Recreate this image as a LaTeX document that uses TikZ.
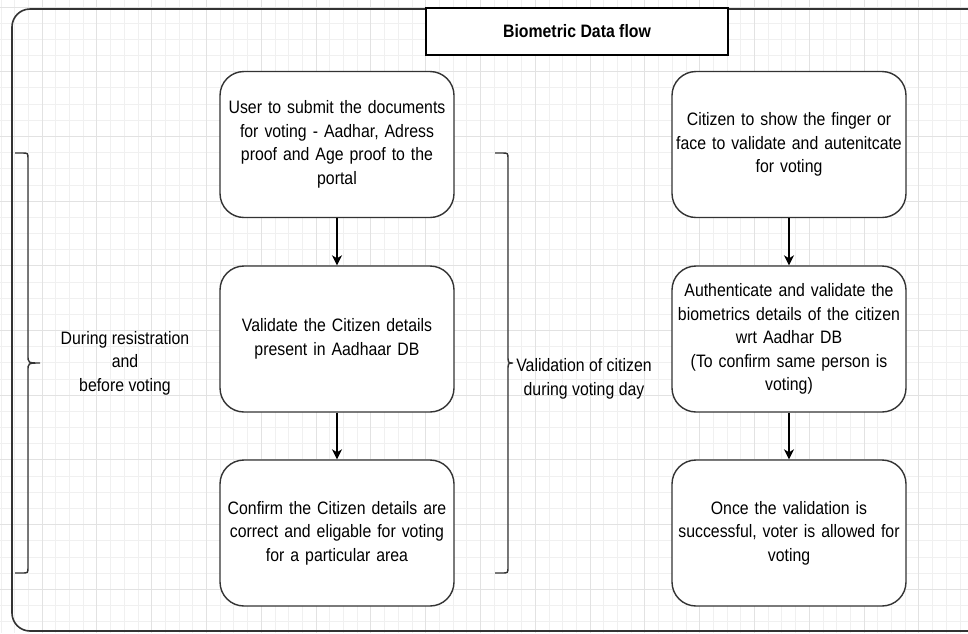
\documentclass[tikz,border=0pt]{standalone}
\usepackage{fontspec}
\setmainfont{Liberation Sans}[FakeStretch=0.88]
\usetikzlibrary{arrows.meta}
\definecolor{ink}{HTML}{333333}
\definecolor{gridmajor}{HTML}{E2E2E2}
\definecolor{gridminor}{HTML}{F0F0F0}

\begin{document}
\begin{tikzpicture}[x=1pt,y=-1pt,font=\fontsize{18}{23.5}\selectfont,
  stepbox/.style={draw=ink,line width=1.4pt,fill=white,rounded corners=24pt,
    minimum width=234pt,minimum height=146pt,text width=234pt,align=center,inner sep=0pt},
  flow/.style={draw=black,line width=1.2pt,-{Stealth[length=10pt,width=10pt,inset=3pt]}}]
  \useasboundingbox (0,0) rectangle (968,633);
  \clip (0,0) rectangle (968,633);
  \foreach \i in {0,...,72}{
     \draw[gridminor,line width=0.8pt] ({-12.8+13.7*\i},0)--({-12.8+13.7*\i},633);}
  \foreach \j in {0,...,40}{
     \draw[gridminor,line width=0.8pt] (0,{-9.2+16.175*\j})--(968,{-9.2+16.175*\j});}
  \foreach \i in {0,...,18}{
     \draw[gridmajor,line width=1pt] ({-12.8+54.8*\i},0)--({-12.8+54.8*\i},633);}
  \foreach \j in {0,...,10}{
     \draw[gridmajor,line width=1pt] (0,{7+64.7*\j})--(968,{7+64.7*\j});}
  \draw[ink,line width=1.6pt,rounded corners=18pt] (12,9) rectangle (1000,631);
  \node[draw=black,line width=1.8pt,fill=white,minimum width=302pt,minimum height=47pt,
        font=\fontsize{18}{23}\selectfont\bfseries] (title) at (577,31.5) {Biometric Data flow};

  \node[stepbox] (reg1) at (337,144.5) {User to submit the documents\\for voting - Aadhar, Adress\\proof and Age proof to the\\portal};
  \node[stepbox] (reg2) at (337,339) {Validate the Citizen details\\present in Aadhaar DB};
  \node[stepbox] (reg3) at (337,533) {Confirm the Citizen details are\\correct and eligable for voting\\for a particular area};
  \node[stepbox] (vote1) at (789,144.5) {Citizen to show the finger or\\face to validate and autenitcate\\for voting};
  \node[stepbox] (vote2) at (789,339) {Authenticate and validate the\\biometrics details of the citizen\\wrt Aadhar DB\\(To confirm same person is\\voting)};
  \node[stepbox] (vote3) at (789,533) {Once the validation is\\successful, voter is allowed for\\voting};
  \draw[flow] (reg1) -- (reg2);
  \draw[flow] (reg2) -- (reg3);
  \draw[flow] (vote1) -- (vote2);
  \draw[flow] (vote2) -- (vote3);

  \foreach \bx/\sx/\tx in {15/28/40,495/508/513}{
     \draw[ink,line width=1.4pt] (\bx,153) -- ({\sx-6},153) .. controls (\sx,153) .. (\sx,159)
       -- (\sx,355) .. controls (\sx,363) .. (\tx,363) .. controls (\sx,363) .. (\sx,371)
       -- (\sx,567) .. controls (\sx,573) .. ({\sx-6},573) -- (\bx,573);}
  \node[align=center] (reglbl) at (125,363) {During resistration\\and\\before voting};
  \node[align=center] (votelbl) at (584,379) {Validation of citizen\\during voting day};
\end{tikzpicture}
\end{document}
